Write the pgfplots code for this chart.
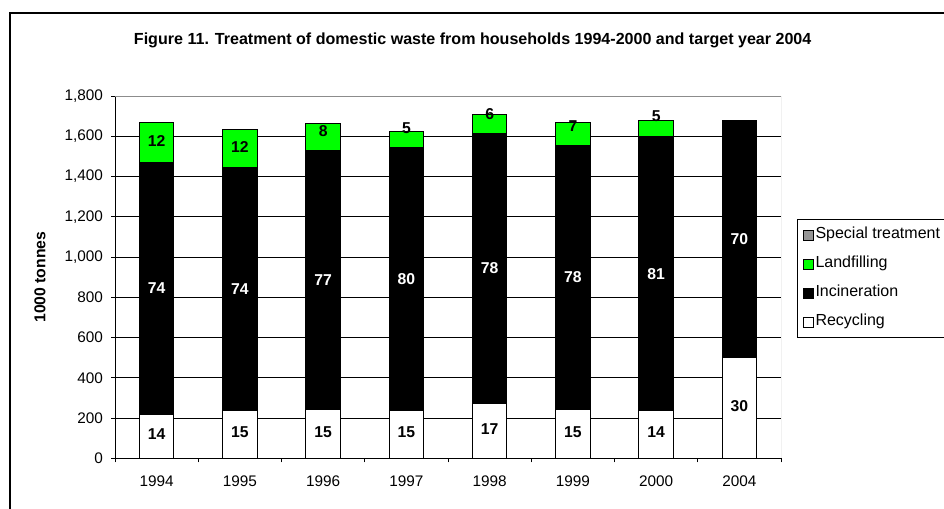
\documentclass[border=0pt]{standalone}
\usepackage{pgfplots}
\usepackage{pgfplotstable}
\pgfplotsset{compat=1.18}
\usepackage{fontspec}
\setmainfont{Liberation Sans}
\definecolor{lfgreen}{RGB}{0,255,0}
\definecolor{spgray}{RGB}{150,150,150}
\definecolor{bordergray}{RGB}{140,140,140}

\pgfplotstableread{
x rec inc land spec
0 220 1250 199 0
1 235 1210 187 0
2 244 1286 132 0
3 235 1310 79 0
4 273 1340 94 0
5 244 1309 116 0
6 235 1363 79 0
7 500 1179 0 0
}\datatable

\pgfplotstableread{
x y lab
0 119 14
1 129 15
2 129 15
3 129 15
4 146 17
5 129 15
6 129 14
7 257 30
}\reclabels

\pgfplotstableread{
x y lab
0 845 74
1 840 74
2 887 77
3 890 80
4 943 78
5 898 78
6 916 81
7 1090 70
}\inclabels

\pgfplotstableread{
x y lab
0 1576 12
1 1546 12
2 1624 8
3 1641 5
4 1712 6
5 1649 7
6 1699 5
}\landlabels

\newcommand{\tickfont}{\fontsize{11.5}{13}\selectfont}
\newcommand{\legfont}{\fontsize{12}{14}\selectfont}
\newcommand{\labfont}{\fontsize{11.8}{13}\selectfont\bfseries}

\begin{document}
\begin{tikzpicture}
\useasboundingbox (0pt,0pt) rectangle (708pt,-381pt);
\clip (0pt,0pt) rectangle (708pt,-381pt);
\draw[line width=1.1pt] (7.5pt,-420pt) -- (7.5pt,-9.9pt) -- (760pt,-9.9pt);
\node[font=\fontsize{12.05}{14}\selectfont\bfseries, anchor=base] at (354.5pt,-33.2pt)
  {Figure 11. Treatment of domestic waste from households 1994-2000 and target year 2004};
\begin{axis}[
  at={(86.25pt,-343.7pt)}, anchor=south west,
  scale only axis, width=499.5pt, height=271.7pt,
  ybar stacked, bar width=0.417,
  xmin=-0.5, xmax=7.5, ymin=0, ymax=1800,
  axis x line*=bottom, axis y line*=left,
  axis line style={black, line width=0.75pt},
  xtick={0,...,7},
  xticklabels={1994,1995,1996,1997,1998,1999,2000,2004},
  major x tick style={draw=none},
  minor xtick={-0.5,0.5,...,7.5},
  ytick={0,200,...,1800},
  ymajorgrids, major grid style={black, line width=0.75pt},
  tick align=outside, tick style={black, line width=0.75pt},
  major tick length=3pt, minor tick length=3pt,
  ticklabel style={font=\tickfont},
  /pgf/number format/assume math mode=true,
  /pgf/number format/1000 sep={,},
  xticklabel style={yshift=-6.25pt},
  yticklabel style={xshift=-2.5pt},
  ylabel={1000 tonnes},
  every axis y label/.style={at={(axis description cs:-0.1126,0.5)}, rotate=90, anchor=center, font=\labfont},
  reverse legend,
  legend cell align=left,
  legend image code/.code={\draw[#1, line width=0.6pt] (0pt,-3.75pt) rectangle (7.5pt,3.75pt);},
  legend style={at={(1.024,0.6605)}, anchor=north west, draw=black, line width=0.6pt,
    font=\legfont, row sep=9.75pt, inner xsep=4.5pt, inner ysep=5.75pt,
    nodes={inner sep=1pt, text depth=0.25em, text height=0.75em}},
]
\addplot[fill=white, draw=black, line width=0.75pt] table[x=x, y=rec]{\datatable};
\addlegendentry{Recycling}
\addplot[fill=black, draw=black, line width=0.75pt] table[x=x, y=inc]{\datatable};
\addlegendentry{Incineration}
\addplot[fill=lfgreen, draw=black, line width=0.75pt] table[x=x, y=land]{\datatable};
\addlegendentry{Landfilling}
\addplot[fill=spgray, draw=black, line width=0.75pt] table[x=x, y=spec]{\datatable};
\addlegendentry{Special treatment\hspace{6pt}}
\draw[bordergray, line width=0.75pt] (rel axis cs:0,1) -- (rel axis cs:1,1) -- (rel axis cs:1,0);
\end{axis}
\begin{axis}[
  at={(86.25pt,-343.7pt)}, anchor=south west,
  scale only axis, width=499.5pt, height=271.7pt,
  xmin=-0.5, xmax=7.5, ymin=0, ymax=1800,
  hide axis, clip=false,
  nodes near coords, point meta=explicit symbolic,
]
\addplot[only marks, mark=*, mark size=0pt, mark options={draw=none, fill=none},
  nodes near coords style={anchor=center, font=\labfont, text=black}]
  table[x=x, y=y, meta=lab]{\reclabels};
\addplot[only marks, mark=*, mark size=0pt, mark options={draw=none, fill=none},
  nodes near coords style={anchor=center, font=\labfont, text=white}]
  table[x=x, y=y, meta=lab]{\inclabels};
\addplot[only marks, mark=*, mark size=0pt, mark options={draw=none, fill=none},
  nodes near coords style={anchor=center, font=\labfont, text=black}]
  table[x=x, y=y, meta=lab]{\landlabels};
\end{axis}
\end{tikzpicture}
\end{document}
